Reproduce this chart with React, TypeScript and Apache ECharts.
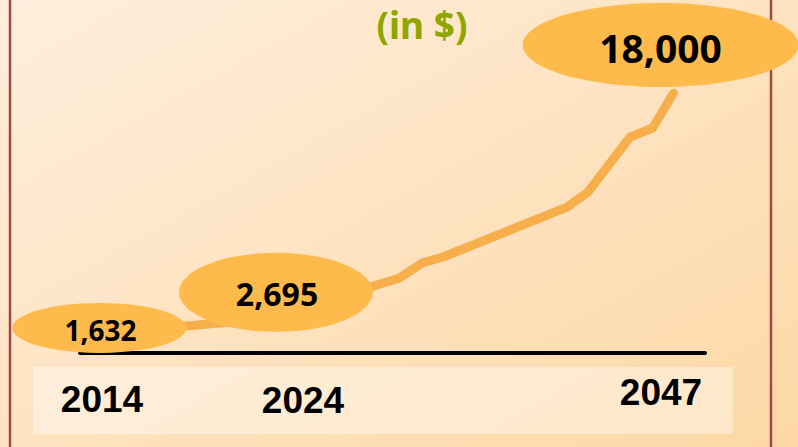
import React, { useEffect, useRef } from "react";
import * as echarts from "echarts";

// Line vertices: [year, value in $]
const lineYears = [2014, 2024, 2031.3, 2032.6, 2033.8, 2040.9, 2042.1, 2044.5, 2045.8, 2047];
const lineValues = [1632, 2695, 5430, 6450, 6860, 10250, 11270, 15000, 15620, 18000];

// Highlighted (labelled) points
const highlightYears = [2014, 2024, 2047];
const highlightValues = [1632, 2695, 18000];

// Year labels under the axis
const yearLabels = ["2014", "2024", "2047"];

const titleText = "(in $)";

export default function App() {
  const ref = useRef<HTMLDivElement>(null);

  useEffect(() => {
    if (!ref.current) return;
    const chart = echarts.init(ref.current, undefined, { renderer: "svg" });

    const lineData = lineYears.map((y, i) => [y, lineValues[i]]);

    const ellipseStyles = [
      { size: [174, 50], offset: [2, -6], font: 28, lOffset: [1, 2] },
      { size: [194, 79], offset: [4, -26], font: 32, lOffset: [1, 1] },
      { size: [276, 84], offset: [-13, -48], font: 39, lOffset: [0, 2] },
    ];

    const scatterData = highlightYears.map((y, i) => ({
      value: [y, highlightValues[i]],
      symbolSize: ellipseStyles[i].size,
      symbolOffset: ellipseStyles[i].offset,
      label: {
        show: true,
        position: "inside",
        offset: ellipseStyles[i].lOffset,
        fontSize: ellipseStyles[i].font,
        fontWeight: "bold",
        fontFamily: "Noto Sans",
        color: "#000000",
        formatter: () => highlightValues[i].toLocaleString("en-US"),
      },
    }));

    const yearPos = [
      [102, 399],
      [303, 400],
      [661, 392],
    ];

    chart.setOption({
      animation: false,
      backgroundColor: {
        type: "linear",
        x: 0,
        y: 0,
        x2: 1,
        y2: 1,
        colorStops: [
          { offset: 0, color: "#FEEEDD" },
          { offset: 1, color: "#FDD8A5" },
        ],
      },
      grid: { left: 80, right: 93, top: 93, bottom: 89 },
      xAxis: {
        type: "value",
        min: 2013,
        max: 2048.8,
        offset: -5,
        axisLine: { show: true, onZero: false, lineStyle: { color: "#000000", width: 4 } },
        axisTick: { show: false },
        axisLabel: { show: false },
        splitLine: { show: false },
      },
      yAxis: {
        type: "value",
        min: 0,
        max: 18000,
        show: false,
        splitLine: { show: false },
      },
      graphic: [
        {
          type: "rect",
          z: 0,
          silent: true,
          shape: { x: 33, y: 367, width: 700, height: 67 },
          style: { fill: "rgba(255,255,255,0.38)" },
        },
        {
          type: "line",
          z: 0,
          silent: true,
          shape: { x1: 10, y1: 0, x2: 10, y2: 447 },
          style: { stroke: "#A8473F", lineWidth: 2.5 },
        },
        {
          type: "line",
          z: 0,
          silent: true,
          shape: { x1: 771, y1: 0, x2: 771, y2: 447 },
          style: { stroke: "#A8473F", lineWidth: 2.5 },
        },
        {
          type: "text",
          z: 10,
          x: 422,
          y: 24,
          style: {
            text: titleText,
            fontSize: 37,
            fontWeight: "bold",
            fontFamily: "Noto Sans",
            fill: "#8FA500",
            textAlign: "center",
            textVerticalAlign: "middle",
          },
        },
        ...yearLabels.map((t, i) => ({
          type: "text",
          z: 10,
          x: yearPos[i][0],
          y: yearPos[i][1],
          style: {
            text: t,
            fontSize: 37,
            fontWeight: "bold",
            fontFamily: "Liberation Sans",
            fill: "#000000",
            textAlign: "center",
            textVerticalAlign: "middle",
          },
        })),
      ],
      series: [
        {
          type: "line",
          data: lineData,
          symbol: "none",
          z: 3,
          lineStyle: { color: "#F7AF4B", width: 9, cap: "round", join: "round" },
        },
        {
          type: "scatter",
          symbol: "circle",
          z: 5,
          data: scatterData,
          itemStyle: { color: "#FFBA4C", opacity: 1 },
        },
      ],
    });

    return () => chart.dispose();
  }, []);

  return (
    <div
      ref={ref}
      style={{ position: "fixed", left: 0, top: 0, width: 798, height: 447 }}
    />
  );
}
